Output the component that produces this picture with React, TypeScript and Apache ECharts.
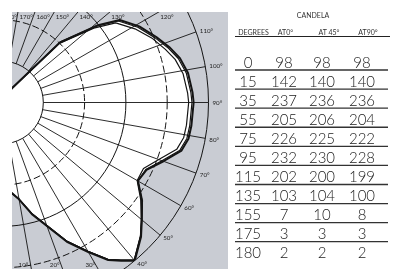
import React, { useEffect, useRef } from "react";
import * as echarts from "echarts";

// ---- Polar diagram data ----
const angleTicks = [10, 20, 30, 40, 50, 60, 70, 80, 90, 100, 110, 120, 130, 140, 150, 160, 170, 180];
const curveAngles = [0, 5, 10, 15, 19, 25, 30, 34, 37, 40, 46, 50, 55, 60, 65, 70, 75, 79, 83, 90, 93, 99, 104, 108, 113, 119, 125, 129, 136, 145, 155, 165, 175, 180];
const at0Curve = [98, 108, 119, 140, 155, 186, 209, 230, 240, 250, 234, 221, 207, 190, 193, 208, 225, 230, 231, 232, 231, 228, 222, 214, 203, 190, 174, 148, 101, 21, 7, 4, 3, 2];
const at45Curve = [98, 108, 119, 139, 154, 185, 208, 229, 239, 249, 233, 221, 207, 190, 192, 206, 223, 228, 229, 230, 229, 226, 220, 212, 201, 188, 172, 147, 102, 22, 10, 5, 3, 2];
const at90Curve = [98, 108, 119, 139, 154, 185, 208, 229, 239, 249, 233, 220, 205, 189, 189, 202, 219, 224, 225, 226, 225, 222, 216, 208, 198, 184, 168, 143, 99, 20, 8, 4, 3, 2];

// ---- Table data ----
const tableTitle = "CANDELA";
const columnHeaders = ["DEGREES", "AT0°", "AT 45°", "AT90°"];
const tableDegrees = [0, 15, 35, 55, 75, 95, 115, 135, 155, 175, 180];
const tableAt0 = [98, 142, 237, 205, 226, 232, 202, 103, 7, 3, 2];
const tableAt45 = [98, 140, 236, 206, 225, 230, 200, 104, 10, 3, 2];
const tableAt90 = [98, 140, 236, 204, 222, 228, 199, 100, 8, 3, 2];

// ---- Layout ----
const W = 397;
const H = 269;
const CX = 2;
const CY = 102.5;
const R0 = 41.3;
const R1 = 206.5;
const BOX = { x: 12, y: 12, w: 216 };
const GRAY = "#c9ccd3";
const INK = "#141414";

function txt(text: string, x: number, y: number, font: string, align: string, fill = INK, z = 60) {
  return {
    type: "text",
    z,
    silent: true,
    style: {
      text,
      x,
      y,
      font,
      fill,
      align,
      textAlign: align,
      verticalAlign: "middle",
      textVerticalAlign: "middle",
    },
  };
}

function angleLabel(a: number) {
  const t = (a * Math.PI) / 180;
  const sx = Math.sin(t);
  const cy = Math.cos(t);
  const py = CY + R1 * cy;
  const label = `${a}°`;
  const font = "6.2px Lato";
  if (py < BOX.y + 4) {
    const tt = (CY - BOX.y) / -cy;
    const x = CX + tt * sx;
    return txt(label, x + 1.5, BOX.y + 4, font, "left", "#222", 20);
  } else if (py > H - 4) {
    const tt = (H - CY) / cy;
    const x = CX + tt * sx;
    return txt(label, x - 3, H - 4.5, font, "right", "#222", 20);
  }
  return txt(label, CX + (R1 + 4) * sx, CY + (R1 + 4) * cy, font, "left", "#222", 20);
}

export default function App() {
  const ref = useRef<HTMLDivElement>(null);
  useEffect(() => {
    if (!ref.current) return;
    const chart = echarts.init(ref.current, undefined, { renderer: "svg" });

    const graphics: any[] = [];
    graphics.push({
      type: "rect",
      z: 0,
      silent: true,
      shape: { x: BOX.x, y: BOX.y, width: BOX.w, height: H - BOX.y + 5 },
      style: { fill: GRAY },
    });
    angleTicks.forEach((a) => graphics.push(angleLabel(a)));
    // clip outside the box
    graphics.push({ type: "rect", z: 50, silent: true, shape: { x: 0, y: 0, width: BOX.x, height: H }, style: { fill: "#fff" } });
    graphics.push({ type: "rect", z: 50, silent: true, shape: { x: 0, y: 0, width: BOX.x + BOX.w + 2, height: BOX.y }, style: { fill: "#fff" } });

    // table
    graphics.push(txt(tableTitle, 313, 15, "7px Lato", "center", "#333"));
    const headerX = [253.5, 285.5, 329, 368];
    columnHeaders.forEach((h, i) => graphics.push(txt(h, headerX[i], 31.5, "7px Lato", "center", "#333")));
    graphics.push({ type: "line", z: 60, silent: true, shape: { x1: 235, y1: 36.5, x2: 390, y2: 36.5 }, style: { stroke: "#222", lineWidth: 1 } });
    const colX = [248, 284, 322, 362];
    const rowY = (i: number) => 61.5 + 19.08 * i;
    tableDegrees.forEach((d, i) => {
      const y = rowY(i);
      const vals = [d, tableAt0[i], tableAt45[i], tableAt90[i]];
      vals.forEach((v, j) => graphics.push(txt(String(v), colX[j], y, "300 15px Lato", "center", "#1a1a1a")));
      if (i < tableDegrees.length - 1) {
        graphics.push({ type: "line", z: 60, silent: true, shape: { x1: 235, y1: y + 8.5, x2: 388, y2: y + 8.5 }, style: { stroke: "#333", lineWidth: 1.3 } });
      }
    });

    const hidden = { axisLine: { show: false }, axisTick: { show: false }, axisLabel: { show: false } };
    const curveSeries = (name: string, vals: number[], width: number) => ({
      name,
      type: "line",
      coordinateSystem: "polar",
      polarIndex: 2,
      data: curveAngles.map((a, i) => [vals[i], a]),
      symbol: "none",
      lineStyle: { color: INK, width },
      z: 5,
      clip: false,
      silent: true,
    });

    chart.setOption({
      animation: false,
      polar: [
        { center: [CX, CY], radius: [R0, R1] },
        { center: [CX, CY], radius: [R0, R1] },
        { center: [CX, CY], radius: [0, R1] },
      ],
      angleAxis: [0, 1, 2].map((i) => ({
        polarIndex: i,
        type: "value",
        min: 0,
        max: 360,
        interval: 10,
        startAngle: 270,
        clockwise: false,
        ...hidden,
        splitLine: { show: i === 0, lineStyle: { color: INK, width: 0.9 } },
        z: 3,
      })),
      radiusAxis: [
        {
          polarIndex: 0,
          type: "value",
          min: 50,
          max: 250,
          interval: 50,
          ...hidden,
          splitLine: { show: true, lineStyle: { color: [INK, "rgba(0,0,0,0)"], width: 1 } },
          z: 3,
        },
        {
          polarIndex: 1,
          type: "value",
          min: 50,
          max: 250,
          interval: 50,
          ...hidden,
          splitLine: { show: true, lineStyle: { color: ["rgba(0,0,0,0)", INK], width: 1, type: [7, 3] } },
          z: 3,
        },
        {
          polarIndex: 2,
          type: "value",
          min: 0,
          max: 250,
          ...hidden,
          splitLine: { show: false },
        },
      ],
      series: [
        {
          name: "fill",
          type: "line",
          coordinateSystem: "polar",
          polarIndex: 2,
          data: curveAngles.map((a, i) => [at0Curve[i], a]),
          symbol: "none",
          lineStyle: { width: 0, opacity: 0 },
          areaStyle: { color: "#ffffff", opacity: 1 },
          z: 1,
          clip: false,
          silent: true,
        },
        curveSeries("AT 90°", at90Curve, 1.2),
        curveSeries("AT 45°", at45Curve, 1.2),
        curveSeries("AT 0°", at0Curve, 2),
      ],
      graphic: { elements: graphics },
    });
    return () => chart.dispose();
  }, []);
  return <div ref={ref} style={{ position: "fixed", left: 0, top: 0, width: W, height: H }} />;
}
